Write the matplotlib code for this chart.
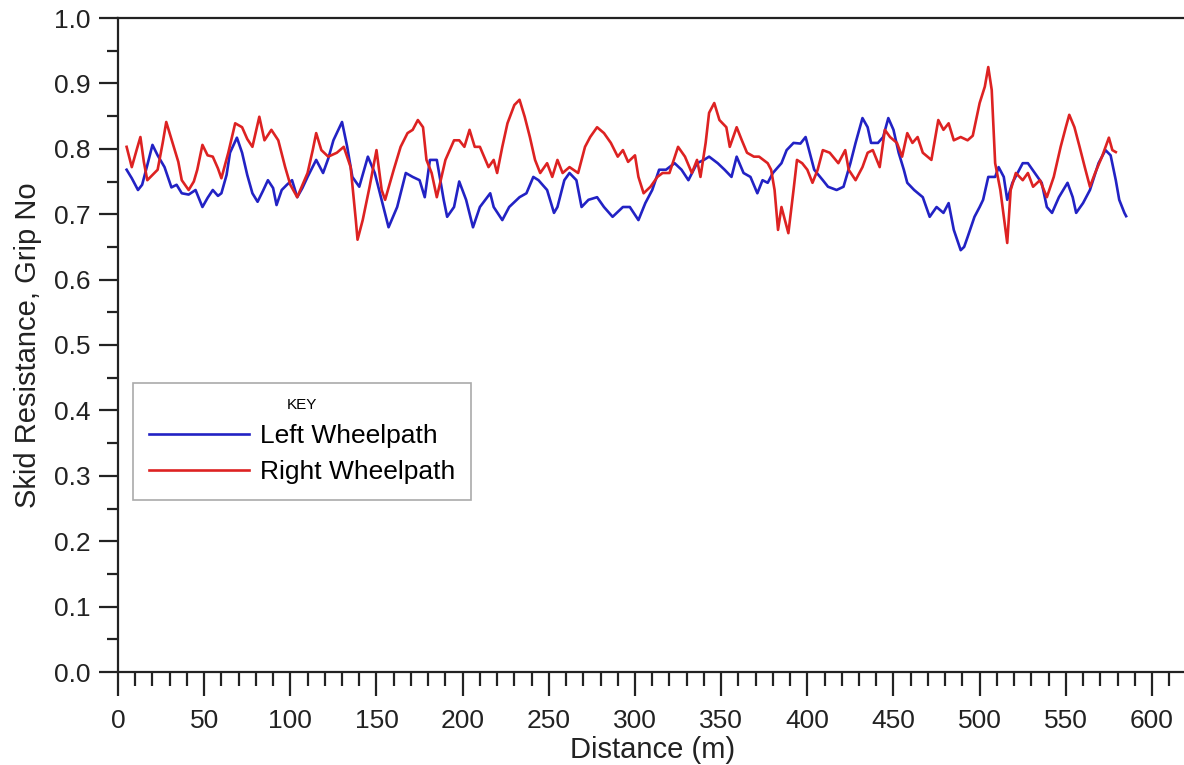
import matplotlib.pyplot as plt
from matplotlib.ticker import MultipleLocator, FormatStrFormatter

plt.rcParams['font.family'] = ['Liberation Sans', 'DejaVu Sans']

# Left wheelpath
left_x = [5, 8, 11.6, 14, 17, 20, 23, 27, 31, 34, 37, 41, 45, 49, 52, 55, 58, 60, 63, 65,
          69, 72, 75, 78, 81, 84, 87, 90, 92, 95, 98, 101, 104, 107, 110, 115, 119, 122, 125, 130,
          133, 136, 140, 145, 149, 154, 157, 162, 167, 171, 175, 178, 181, 185, 189, 191, 195, 198, 202, 206,
          210, 216, 218, 223, 227, 233, 237, 241, 244, 249, 253, 255, 259, 262, 266, 269, 273, 278, 282, 287,
          293, 297, 302, 306, 310, 314, 318, 323, 327, 331, 336, 340, 343, 348, 352, 356, 359, 363, 367, 371,
          374, 377, 380, 385, 388, 392, 396, 399, 402, 404, 409, 412, 417, 421, 425, 428, 432, 435, 437, 441,
          444, 447, 450, 453, 456, 458, 462, 467, 471, 475, 479, 482, 485, 489, 491, 493, 497, 500, 502, 505,
          509, 511, 514, 516, 519, 522, 525, 528, 532, 536, 539, 542, 546, 551, 554, 556, 560, 564, 569, 573,
          576, 579, 581, 584, 585]
left_y = [0.768, 0.755, 0.737, 0.745, 0.775, 0.806, 0.790, 0.772, 0.741, 0.745, 0.732, 0.730, 0.737, 0.711, 0.725, 0.737, 0.728, 0.732, 0.760, 0.794,
          0.817, 0.794, 0.760, 0.732, 0.719, 0.735, 0.752, 0.740, 0.714, 0.737, 0.745, 0.752, 0.726, 0.740, 0.757, 0.783, 0.763, 0.785, 0.813, 0.841,
          0.803, 0.757, 0.742, 0.788, 0.763, 0.711, 0.680, 0.711, 0.763, 0.757, 0.752, 0.726, 0.783, 0.783, 0.722, 0.696, 0.711, 0.750, 0.722, 0.680,
          0.711, 0.732, 0.711, 0.691, 0.711, 0.726, 0.732, 0.757, 0.752, 0.737, 0.702, 0.711, 0.752, 0.763, 0.752, 0.711, 0.722, 0.726, 0.711, 0.696,
          0.711, 0.711, 0.691, 0.717, 0.737, 0.768, 0.768, 0.778, 0.768, 0.752, 0.778, 0.783, 0.788, 0.778, 0.768, 0.757, 0.788, 0.763, 0.757, 0.732,
          0.752, 0.748, 0.763, 0.778, 0.798, 0.809, 0.808, 0.818, 0.788, 0.768, 0.752, 0.742, 0.737, 0.742, 0.778, 0.809, 0.847, 0.833, 0.809, 0.809,
          0.818, 0.847, 0.829, 0.794, 0.768, 0.748, 0.737, 0.726, 0.696, 0.711, 0.702, 0.717, 0.676, 0.645, 0.650, 0.665, 0.696, 0.711, 0.722, 0.757,
          0.757, 0.772, 0.757, 0.722, 0.748, 0.763, 0.778, 0.778, 0.763, 0.748, 0.711, 0.702, 0.726, 0.748, 0.726, 0.702, 0.717, 0.737, 0.778, 0.798,
          0.790, 0.752, 0.722, 0.702, 0.697]

# Right wheelpath
right_x = [5, 8, 11, 13, 15, 17, 20, 23, 26, 28, 32, 35, 37, 41, 44, 46, 49, 52, 55, 58,
           60, 64, 68, 72, 75, 78, 82, 85, 89, 93, 97, 100, 104, 110, 113, 115, 118, 122, 127, 131,
           135, 138, 139, 142, 146, 150, 153, 155, 160, 164, 168, 171, 174, 177, 179, 182, 185, 190, 195, 198,
           201, 204, 207, 210, 215, 218, 220, 223, 226, 230, 233, 236, 239, 242, 245, 249, 252, 255, 258, 262,
           267, 271, 274, 278, 282, 286, 290, 293, 296, 300, 302, 305, 309, 313, 316, 320, 325, 329, 333, 336,
           338, 341, 343, 346, 349, 353, 355, 359, 362, 365, 369, 372, 377, 379, 381, 383, 385, 387, 389, 392,
           394, 397, 400, 403, 406, 409, 413, 418, 422, 424, 428, 432, 435, 438, 442, 445, 448, 452, 455, 458,
           461, 464, 467, 472, 476, 479, 482, 485, 489, 493, 496, 500, 503, 505, 507, 509, 512, 516, 518, 521,
           525, 528, 531, 535, 539, 543, 547, 550, 552, 555, 558, 561, 564, 567, 571, 575, 577, 579]
right_y = [0.803, 0.772, 0.800, 0.818, 0.780, 0.752, 0.760, 0.768, 0.810, 0.841, 0.806, 0.780, 0.752, 0.737, 0.750, 0.768, 0.806, 0.790, 0.788, 0.770,
           0.755, 0.794, 0.839, 0.833, 0.815, 0.803, 0.849, 0.813, 0.829, 0.813, 0.772, 0.745, 0.726, 0.763, 0.798, 0.824, 0.798, 0.788, 0.794, 0.803,
           0.772, 0.691, 0.661, 0.691, 0.742, 0.798, 0.737, 0.722, 0.768, 0.803, 0.824, 0.829, 0.844, 0.833, 0.783, 0.763, 0.726, 0.783, 0.813, 0.813,
           0.803, 0.829, 0.803, 0.803, 0.772, 0.783, 0.763, 0.803, 0.839, 0.867, 0.875, 0.849, 0.818, 0.783, 0.763, 0.778, 0.757, 0.783, 0.763, 0.772,
           0.763, 0.803, 0.818, 0.833, 0.824, 0.809, 0.788, 0.798, 0.780, 0.790, 0.757, 0.732, 0.742, 0.757, 0.763, 0.763, 0.803, 0.788, 0.763, 0.783,
           0.757, 0.809, 0.855, 0.870, 0.844, 0.833, 0.803, 0.833, 0.813, 0.794, 0.788, 0.788, 0.778, 0.768, 0.737, 0.676, 0.711, 0.691, 0.671, 0.737,
           0.783, 0.778, 0.768, 0.748, 0.768, 0.798, 0.794, 0.778, 0.798, 0.768, 0.752, 0.772, 0.794, 0.798, 0.772, 0.829, 0.818, 0.809, 0.788, 0.824,
           0.809, 0.818, 0.794, 0.783, 0.844, 0.829, 0.839, 0.813, 0.818, 0.813, 0.820, 0.870, 0.895, 0.925, 0.890, 0.778, 0.737, 0.656, 0.737, 0.763,
           0.752, 0.763, 0.742, 0.752, 0.726, 0.757, 0.803, 0.833, 0.852, 0.833, 0.803, 0.772, 0.742, 0.763, 0.788, 0.817, 0.798, 0.795]

fig = plt.figure(figsize=(11.84, 7.65), dpi=100)
ax = fig.add_axes([118 / 1184, 93 / 765, 620 * 1.7233 / 1184, 654 / 765])

ax.plot(left_x, left_y, color='#2222c4', lw=1.9, label='Left Wheelpath')
ax.plot(right_x, right_y, color='#dd2222', lw=1.9, label='Right Wheelpath')

ax.set_xlim(0, 620)
ax.set_ylim(0, 1.0)
ax.xaxis.set_major_locator(MultipleLocator(50))
ax.xaxis.set_minor_locator(MultipleLocator(10))
ax.yaxis.set_major_locator(MultipleLocator(0.1))
ax.yaxis.set_minor_locator(MultipleLocator(0.05))
ax.yaxis.set_major_formatter(FormatStrFormatter('%.1f'))

for s in ['left', 'bottom', 'top']:
    ax.spines[s].set_linewidth(1.6)
    ax.spines[s].set_color('#222222')
ax.spines['right'].set_visible(False)

ax.tick_params(which='major', direction='out', length=14, width=1.6, color='#222222',
               labelsize=19, pad=6, labelcolor='#222222')
ax.tick_params(which='minor', direction='out', length=8, width=1.6, color='#222222')
ax.tick_params(axis='x', which='major', length=17, pad=10)
ax.tick_params(axis='x', which='minor', length=10)

ax.set_xlabel('Distance (m)', fontsize=21, color='#222222', labelpad=2)
ax.set_ylabel('Skid Resistance, Grip No', fontsize=21, color='#222222', labelpad=8)

leg = ax.legend(loc='lower left', bbox_to_anchor=(0.014, 0.263), borderaxespad=0,
                title='KEY', title_fontsize=11, fontsize=19, handlelength=3.8,
                handletextpad=0.4, labelspacing=0.45, fancybox=False, framealpha=1,
                borderpad=0.6)
leg.get_frame().set_edgecolor('#aaaaaa')
leg.get_frame().set_linewidth(1.2)

fig.savefig('out.png', dpi=100)
